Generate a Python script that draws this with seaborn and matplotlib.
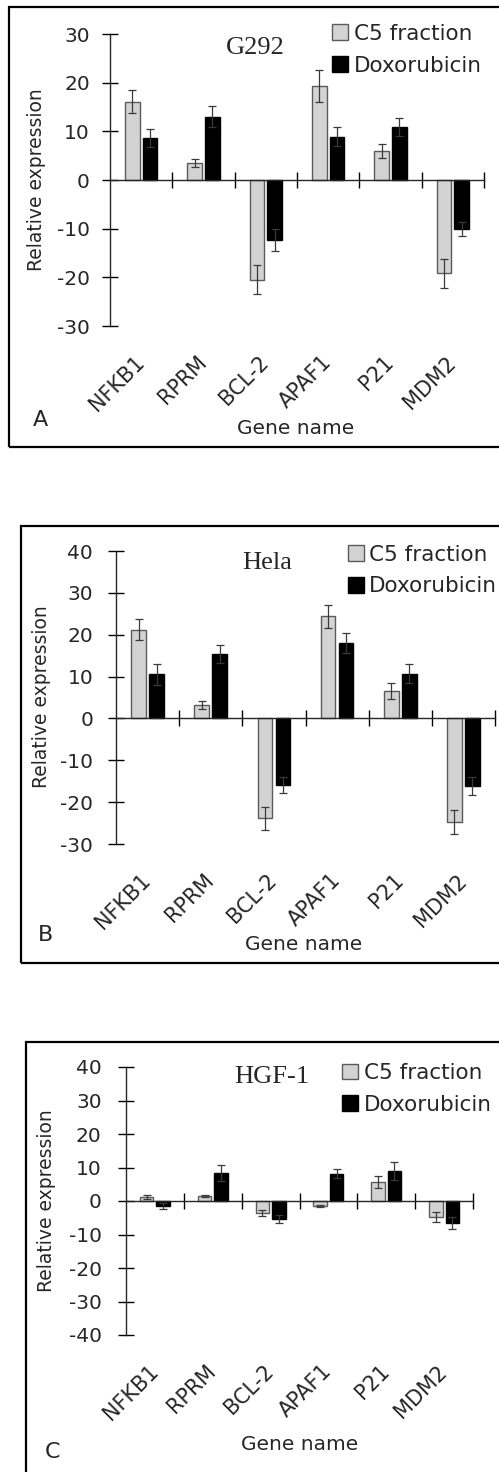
import numpy as np
import pandas as pd
import matplotlib
matplotlib.use("Agg")
import matplotlib.pyplot as plt
from matplotlib.patches import Rectangle, Patch
from matplotlib.container import BarContainer
import seaborn as sns

# ---------------- data ----------------
genes = ['NFKB1', 'RPRM', 'BCL-2', 'APAF1', 'P21', 'MDM2']
treatments = ['C5 fraction', 'Doxorubicin']

g292_c5 = [16.1, 3.5, -20.5, 19.3, 6.0, -19.2]
g292_c5_err = [2.4, 0.8, 3.0, 3.3, 1.5, 3.0]
g292_dox = [8.6, 13.0, -12.3, 8.9, 10.9, -10.1]
g292_dox_err = [1.8, 2.2, 2.2, 2.0, 1.8, 1.4]

hela_c5 = [21.2, 3.2, -23.9, 24.4, 6.5, -24.7]
hela_c5_err = [2.5, 1.0, 2.7, 2.8, 1.9, 2.9]
hela_dox = [10.5, 15.4, -15.9, 18.0, 10.7, -16.1]
hela_dox_err = [2.5, 2.1, 2.0, 2.3, 2.3, 2.2]

hgf_c5 = [1.2, 1.5, -3.6, -1.5, 5.7, -4.7]
hgf_c5_err = [0.7, 0.3, 1.0, 0.3, 1.7, 1.5]
hgf_dox = [-1.5, 8.3, -5.5, 8.2, 8.9, -6.5]
hgf_dox_err = [0.8, 2.3, 1.2, 1.4, 2.7, 1.8]

panel_titles = ['G292', 'Hela', 'HGF-1']
panel_letters = ['A', 'B', 'C']
yticks_a = [-30, -20, -10, 0, 10, 20, 30]
yticks_b = [-30, -20, -10, 0, 10, 20, 30, 40]
yticks_c = [-40, -30, -20, -10, 0, 10, 20, 30, 40]

# ---------------- style ----------------
sns.set_theme(style="ticks")
plt.rcParams['font.family'] = ['DejaVu Sans']
plt.rcParams['axes.linewidth'] = 1.0

W, H = 499, 1472
fig = plt.figure(figsize=(W / 100, H / 100), dpi=100)
fig.patch.set_facecolor('white')

colors = {'C5 fraction': '#d3d3d3', 'Doxorubicin': '#000000'}
edges = {'C5 fraction': '#5a5a5a', 'Doxorubicin': '#000000'}


def px_axes(left, right, top, bottom):
    return [left / W, 1 - bottom / H, (right - left) / W, (bottom - top) / H]


panels = [
    dict(c5=g292_c5, c5e=g292_c5_err, dox=g292_dox, doxe=g292_dox_err,
         yt=yticks_a, box=(9, 7, 447), ax=px_axes(110, 484, 34, 326),
         title_xy=(0.388, 0.953), leg=(0.594, 1.035),
         ylab=(37, 180), gene=(296, 429), letter=(40, 420), ypad=9),
    dict(c5=hela_c5, c5e=hela_c5_err, dox=hela_dox, doxe=hela_dox_err,
         yt=yticks_b, box=(21, 526, 963), ax=px_axes(116, 495, 551, 844),
         title_xy=(0.399, 0.959), leg=(0.611, 1.022),
         ylab=(42, 697), gene=(304, 945), letter=(46, 935), ypad=11),
    dict(c5=hgf_c5, c5e=hgf_c5_err, dox=hgf_dox, doxe=hgf_dox_err,
         yt=yticks_c, box=(26, 1042, 1490), ax=px_axes(126, 473, 1067, 1335),
         title_xy=(0.42, 0.961), leg=(0.623, 1.015),
         ylab=(47, 1201), gene=(300, 1445), letter=(52, 1452), ypad=12),
]

for i, p in enumerate(panels):
    # panel frame
    x0, y0, y1 = p['box']
    fig.add_artist(Rectangle((x0 / W, 1 - y1 / H), (520 - x0) / W, (y1 - y0) / H,
                             transform=fig.transFigure, fill=False,
                             edgecolor='black', linewidth=1.6, clip_on=False))

    ax = fig.add_axes(p['ax'])
    df = pd.DataFrame({
        'Gene': genes * 2,
        'Treatment': [treatments[0]] * len(genes) + [treatments[1]] * len(genes),
        'Value': list(p['c5']) + list(p['dox']),
    })
    sns.barplot(data=df, x='Gene', y='Value', hue='Treatment', order=genes,
                hue_order=treatments, palette=colors, width=0.57, gap=0.18,
                errorbar=None, legend=False, ax=ax, linewidth=1.0)

    errs = [p['c5e'], p['doxe']]
    vals = [p['c5'], p['dox']]
    bar_conts = [c for c in ax.containers if isinstance(c, BarContainer)]
    for k, cont in enumerate(bar_conts):
        for patch in cont.patches:
            patch.set_edgecolor(edges[treatments[k]])
            patch.set_linewidth(1.0)
        xs = [b.get_x() + b.get_width() / 2 for b in cont.patches]
        ax.errorbar(xs, vals[k], yerr=errs[k], fmt='none', ecolor='#3a3a3a',
                    elinewidth=0.9, capsize=3.2, capthick=0.9, zorder=5)

    # axes styling
    ax.set_xlim(-0.5, len(genes) - 0.5)
    ax.set_ylim(min(p['yt']), max(p['yt']))
    ax.set_yticks(p['yt'])
    ax.set_yticklabels([str(v) for v in p['yt']])
    ax.set_xlabel('')
    ax.set_ylabel('')
    ax.spines['right'].set_visible(False)
    ax.spines['bottom'].set_visible(False)
    ax.spines['top'].set_position(('data', 0))
    ax.spines['top'].set_zorder(6)
    ax.set_xticks(np.arange(len(genes)) + 0.5, minor=True)
    ax.tick_params(axis='x', which='major', bottom=True, top=False, length=0,
                   pad=24, labelsize=15, labelrotation=45)
    ax.tick_params(axis='x', which='minor', bottom=False, top=True,
                   direction='inout', length=11, width=1.0, color='black')
    ax.tick_params(axis='y', which='major', left=True, direction='inout',
                   length=11, width=1.0, color='black', labelsize=14.5,
                   pad=p['ypad'])
    for lab in ax.get_xticklabels():
        lab.set_ha('right')
        lab.set_va('center')
        lab.set_rotation_mode('anchor')

    # title
    ax.text(p['title_xy'][0], p['title_xy'][1], panel_titles[i],
            transform=ax.transAxes, ha='center', va='center',
            fontsize=19, family=['Liberation Serif', 'DejaVu Serif'])

    # legend
    handles = [Patch(facecolor=colors[t], edgecolor=edges[t], linewidth=1.0)
               for t in treatments]
    ax.legend(handles, treatments, loc='upper left', bbox_to_anchor=p['leg'],
              frameon=False, fontsize=15.5, handlelength=0.75, handleheight=0.75,
              handletextpad=0.25, labelspacing=0.55, borderpad=0,
              borderaxespad=0)

    # figure-level texts
    fig.text(p['ylab'][0] / W, 1 - p['ylab'][1] / H, 'Relative expression',
             rotation=90, ha='center', va='center', fontsize=13.5)
    fig.text(p['gene'][0] / W, 1 - p['gene'][1] / H, 'Gene name',
             ha='center', va='center', fontsize=14.5)
    fig.text(p['letter'][0] / W, 1 - p['letter'][1] / H, panel_letters[i],
             ha='center', va='center', fontsize=16)

fig.savefig('out.png', dpi=100, facecolor='white')
